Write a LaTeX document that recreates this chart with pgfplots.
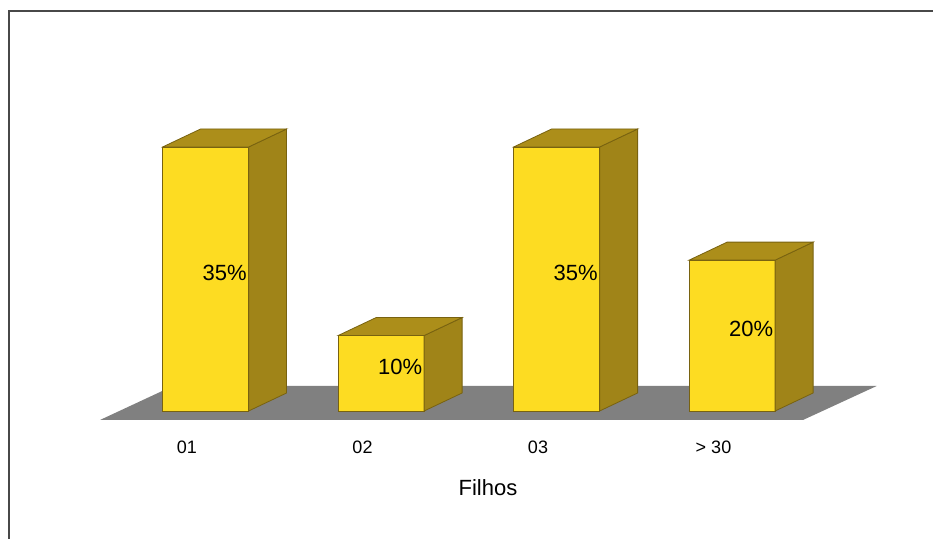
\documentclass[border=0pt]{standalone}
\usepackage{pgfplots}
\pgfplotsset{compat=1.18}
\usepackage{pgfplotstable}
\usepackage{fontspec}
\setmainfont{Liberation Sans}

\definecolor{barfront}{RGB}{253,220,34}
\definecolor{barside}{RGB}{160,132,24}
\definecolor{bartop}{RGB}{172,142,26}
\definecolor{baredge}{RGB}{120,98,16}
\definecolor{floorgray}{RGB}{128,128,128}
\definecolor{framegray}{RGB}{72,72,72}

% share of respondents by number of children
\pgfplotstableread{
x v
0 35
1 10
2 35
3 20
}\filhos

% box geometry in axis units
\def\bx{0.106}   % front face centre, measured from the category tick
\def\bw{0.245}   % half width of a bar
\def\ddx{0.2165} % depth of a box along x
\def\ddy{2.386}  % depth of a box along y

\begin{document}
\begin{tikzpicture}
\begin{axis}[
  scale only axis, width=466.5pt, height=269.5pt,
  xmin=-1.0655, xmax=4.2507, ymin=-16.97, ymax=54.49,
  axis line style={draw=none}, tick style={draw=none},
  ytick=\empty,
  xtick={0,1,2,3}, xticklabels={01,02,03,{> 30}},
  xticklabel style={anchor=center, yshift=45.75pt, font=\fontsize{9}{10}\selectfont},
  xlabel={Filhos},
  every axis x label/.style={at={(rel axis cs:0.52304,0.09462)}, anchor=center,
    font=\fontsize{11}{13}\selectfont},
  /pgf/number format/assume math mode=true,
  clip=false,
]
% frame (top and left edges)
\draw[framegray, line width=0.9pt]
  (rel axis cs:0.00965,0) -- (rel axis cs:0.00965,0.98) -- (rel axis cs:1,0.98);

% floor
\addplot[fill=floorgray, draw=none] coordinates
  {(-0.4957,-1.193) (3.510,-1.193) (3.930,3.314) (-0.0798,3.314)} -- cycle;

% boxes: front, side and top faces
\pgfplotsinvokeforeach{0,...,3}{
  \pgfplotstablegetelem{#1}{x}\of\filhos \let\cx\pgfplotsretval
  \pgfplotstablegetelem{#1}{v}\of\filhos \let\cv\pgfplotsretval
  \pgfmathsetmacro\xl{\cx+\bx-\bw}
  \pgfmathsetmacro\xr{\cx+\bx+\bw}
  \pgfmathsetmacro\xld{\xl+\ddx}
  \pgfmathsetmacro\xrd{\xr+\ddx}
  \pgfmathsetmacro\vd{\cv+\ddy}
  \edef\drawbox{%
    \noexpand\addplot[fill=barfront, draw=baredge, line width=0.4pt] coordinates
      {(\xl,0) (\xr,0) (\xr,\cv) (\xl,\cv)} -- cycle;
    \noexpand\addplot[fill=barside, draw=baredge, line width=0.4pt] coordinates
      {(\xr,0) (\xrd,\ddy) (\xrd,\vd) (\xr,\cv)} -- cycle;
    \noexpand\addplot[fill=bartop, draw=baredge, line width=0.4pt] coordinates
      {(\xl,\cv) (\xr,\cv) (\xrd,\vd) (\xld,\vd)} -- cycle;
  }\drawbox
}

% value labels at the middle of each box
\addplot[draw=none, point meta=explicit,
  nodes near coords={\pgfmathprintnumber{\pgfplotspointmeta}\%},
  every node near coord/.style={anchor=center, text=black,
    font=\fontsize{11}{13}\selectfont}]
  table[x expr=\thisrow{x}+\bx+\ddx/2, y expr=\thisrow{v}/2+0.85, meta=v] {\filhos};
\end{axis}
\pgfresetboundingbox
\path[use as bounding box] (current axis.south west) rectangle (current axis.north east);
\end{tikzpicture}
\end{document}
